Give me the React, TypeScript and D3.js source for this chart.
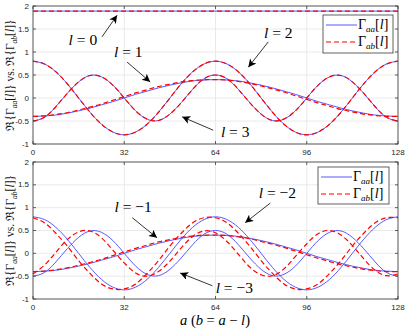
import * as d3 from "d3";

// sample positions a = 0, 4, ..., 128
const aSamples = [0, 4, 8, 12, 16, 20, 24, 28, 32, 36, 40, 44, 48, 52, 56, 60, 64,
  68, 72, 76, 80, 84, 88, 92, 96, 100, 104, 108, 112, 116, 120, 124, 128];

// l = 0 (flat)
const lag0X = [0, 128];
const lag0 = [1.89, 1.89];

// Re{Gamma_aa[l]} for |l| = 1, 2, 3
const gammaAa1 = [-0.4, -0.39, -0.37, -0.33, -0.28, -0.22, -0.15, -0.08, 0, 0.08, 0.15, 0.22, 0.28, 0.33, 0.37, 0.39, 0.4,
  0.39, 0.37, 0.33, 0.28, 0.22, 0.15, 0.08, 0, -0.08, -0.15, -0.22, -0.28, -0.33, -0.37, -0.39, -0.4];
const gammaAa2 = [0.8, 0.74, 0.57, 0.31, 0, -0.31, -0.57, -0.74, -0.8, -0.74, -0.57, -0.31, 0, 0.31, 0.57, 0.74, 0.8,
  0.74, 0.57, 0.31, 0, -0.31, -0.57, -0.74, -0.8, -0.74, -0.57, -0.31, 0, 0.31, 0.57, 0.74, 0.8];
const gammaAa3 = [-0.5, -0.42, -0.19, 0.1, 0.35, 0.49, 0.46, 0.28, 0, -0.28, -0.46, -0.49, -0.35, -0.1, 0.19, 0.42, 0.5,
  0.42, 0.19, -0.1, -0.35, -0.49, -0.46, -0.28, 0, 0.28, 0.46, 0.49, 0.35, 0.1, -0.19, -0.42, -0.5];

// Re{Gamma_ab[l]}
const gammaAb1 = [-0.4, -0.39, -0.36, -0.32, -0.26, -0.2, -0.13, -0.05, 0.03, 0.11, 0.18, 0.25, 0.3, 0.35, 0.38, 0.4, 0.4,
  0.39, 0.36, 0.32, 0.26, 0.2, 0.13, 0.05, -0.03, -0.11, -0.18, -0.25, -0.3, -0.35, -0.38, -0.4, -0.4];
const gammaAbM2 = [0.78, 0.67, 0.44, 0.16, -0.16, -0.44, -0.67, -0.78, -0.78, -0.67, -0.44, -0.16, 0.16, 0.44, 0.67, 0.78, 0.78,
  0.67, 0.44, 0.16, -0.16, -0.44, -0.67, -0.78, -0.78, -0.67, -0.44, -0.16, 0.16, 0.44, 0.67, 0.78, 0.78];
const gammaAbM3 = [-0.45, -0.26, 0.02, 0.3, 0.47, 0.49, 0.34, 0.07, -0.21, -0.43, -0.5, -0.4, -0.17, 0.12, 0.37, 0.49, 0.45,
  0.26, -0.02, -0.3, -0.47, -0.49, -0.34, -0.07, 0.21, 0.43, 0.5, 0.4, 0.17, -0.12, -0.37, -0.49, -0.45];

const xTicks = [0, 32, 64, 96, 128];
const yTicks = [-1, -0.5, 0, 0.5, 1, 1.5, 2];
const yTickLabels = ["-1", "-0.5", "0", "0.5", "1", "1.5", "2"];

// annotations: label, text position, arrow tail, arrow head (data units)
const topNotes = [
  { lag: "0", tx: 17.5, ty: 1.27, x1: 24.2, y1: 1.33, x2: 29.5, y2: 1.8 },
  { lag: "1", tx: 33.4, ty: 1.0, x1: 33.0, y1: 0.78, x2: 41.1, y2: 0.35 },
  { lag: "2", tx: 86.0, ty: 1.43, x1: 82.5, y1: 1.22, x2: 75.5, y2: 0.67 },
  { lag: "3", tx: 70.9, ty: -0.74, x1: 63.2, y1: -0.7, x2: 52.3, y2: -0.41 },
];
const bottomNotes = [
  { lag: "\u22121", tx: 35.1, ty: 1.02, x1: 34.8, y1: 0.78, x2: 43.5, y2: 0.34 },
  { lag: "\u22122", tx: 85.7, ty: 1.32, x1: 83.2, y1: 1.1, x2: 74.4, y2: 0.67 },
  { lag: "\u22123", tx: 70.6, ty: -0.76, x1: 62.9, y1: -0.71, x2: 51.6, y2: -0.43 },
];

const BLUE = "#4646ff";
const RED = "#ff0000";
const AXIS = "#3a3a3a";
const SERIF = "'Liberation Serif', 'DejaVu Serif', serif";
const SANS = "'Liberation Sans', Arial, sans-serif";

type Series = { x: number[]; y: number[]; dashed: boolean };
type Note = { lag: string; tx: number; ty: number; x1: number; y1: number; x2: number; y2: number };

function Panel(props: {
  top: number;
  bottom: number;
  series: Series[];
  notes: Note[];
  legend: { x: number; y: number; w: number; h: number };
}) {
  const { top, bottom, series, notes, legend } = props;
  const left = 33;
  const right = 398;

  const xScale = d3.scaleLinear().domain([0, 128]).range([left, right]);
  const yScale = d3.scaleLinear().domain([-1, 2]).range([bottom, top]);

  const line = d3
    .line<[number, number]>()
    .x((d) => xScale(d[0]))
    .y((d) => yScale(d[1]))
    .curve(d3.curveNatural);

  const pts = (s: Series) => s.x.map((v, i) => [v, s.y[i]] as [number, number]);

  return (
    <g>
      {/* grid */}
      {yTicks.map((t) => (
        <line key={"gy" + t} x1={left} x2={right} y1={yScale(t)} y2={yScale(t)} stroke="#e4e4e4" strokeWidth={0.8} />
      ))}
      {xTicks.map((t) => (
        <line key={"gx" + t} x1={xScale(t)} x2={xScale(t)} y1={top} y2={bottom} stroke="#e4e4e4" strokeWidth={0.8} />
      ))}

      {/* curves: blue solid first, red dashed on top */}
      {series.filter((s) => !s.dashed).map((s, i) => (
        <path key={"b" + i} d={line(pts(s)) ?? ""} fill="none" stroke={BLUE} strokeWidth={0.9} />
      ))}
      {series.filter((s) => s.dashed).map((s, i) => (
        <path key={"r" + i} d={line(pts(s)) ?? ""} fill="none" stroke={RED} strokeWidth={1.2} strokeDasharray="5,3" />
      ))}

      {/* box and ticks */}
      <rect x={left} y={top} width={right - left} height={bottom - top} fill="none" stroke={AXIS} strokeWidth={0.8} />
      {yTicks.map((t) => (
        <g key={"ty" + t}>
          <line x1={left} x2={left + 3} y1={yScale(t)} y2={yScale(t)} stroke={AXIS} strokeWidth={0.8} />
          <line x1={right - 3} x2={right} y1={yScale(t)} y2={yScale(t)} stroke={AXIS} strokeWidth={0.8} />
        </g>
      ))}
      {xTicks.map((t) => (
        <g key={"tx" + t}>
          <line x1={xScale(t)} x2={xScale(t)} y1={bottom} y2={bottom - 3} stroke={AXIS} strokeWidth={0.8} />
          <line x1={xScale(t)} x2={xScale(t)} y1={top} y2={top + 3} stroke={AXIS} strokeWidth={0.8} />
        </g>
      ))}
      {yTicks.map((t, i) => (
        <text key={"ly" + t} x={left - 4} y={yScale(t)} dy="0.33em" textAnchor="end" fontFamily={SANS} fontSize={8} fill="#262626">
          {yTickLabels[i]}
        </text>
      ))}
      {xTicks.map((t) => (
        <text key={"lx" + t} x={xScale(t)} y={bottom + 11} textAnchor="middle" fontFamily={SANS} fontSize={8} fill="#262626">
          {t}
        </text>
      ))}

      {/* y label */}
      <text
        transform={`translate(14,${(top + bottom) / 2}) rotate(-90)`}
        textAnchor="middle"
        fontFamily={SERIF}
        fontSize={11.5}
        fill="#111"
      >
        {"\u211C{\u0393"}
        <tspan fontSize={7.5} fontStyle="italic" dy={2.5}>aa</tspan>
        <tspan dy={-2.5}>[</tspan>
        <tspan fontStyle="italic">l</tspan>
        {"]}  vs.  \u211C{\u0393"}
        <tspan fontSize={7.5} fontStyle="italic" dy={2.5}>ab</tspan>
        <tspan dy={-2.5}>[</tspan>
        <tspan fontStyle="italic">l</tspan>
        {"]}"}
      </text>

      {/* annotations */}
      {notes.map((n) => (
        <g key={"n" + n.lag}>
          <line
            x1={xScale(n.x1)}
            y1={yScale(n.y1)}
            x2={xScale(n.x2)}
            y2={yScale(n.y2)}
            stroke="#000"
            strokeWidth={0.8}
            markerEnd="url(#arrowHead)"
          />
          <text x={xScale(n.tx)} y={yScale(n.ty)} dy="0.35em" textAnchor="middle" fontFamily={SERIF} fontSize={15.5} fill="#000">
            <tspan fontStyle="italic">l</tspan>
            {" = " + n.lag}
          </text>
        </g>
      ))}

      {/* legend */}
      <rect x={legend.x} y={legend.y} width={legend.w} height={legend.h} fill="#fff" stroke={AXIS} strokeWidth={0.8} />
      <line x1={legend.x + 3} x2={legend.x + 34} y1={legend.y + 10} y2={legend.y + 10} stroke={BLUE} strokeWidth={0.9} />
      <line x1={legend.x + 3} x2={legend.x + 34} y1={legend.y + 27} y2={legend.y + 27} stroke={RED} strokeWidth={1.2} strokeDasharray="5,3" />
      <text x={legend.x + 35} y={legend.y + 14} fontFamily={SERIF} fontSize={14} fill="#000">
        {"\u0393"}
        <tspan fontSize={9} fontStyle="italic" dy={3}>aa</tspan>
        <tspan dy={-3}>[</tspan>
        <tspan fontStyle="italic">l</tspan>
        {"]"}
      </text>
      <text x={legend.x + 35} y={legend.y + 31} fontFamily={SERIF} fontSize={14} fill="#000">
        {"\u0393"}
        <tspan fontSize={9} fontStyle="italic" dy={3}>ab</tspan>
        <tspan dy={-3}>[</tspan>
        <tspan fontStyle="italic">l</tspan>
        {"]"}
      </text>
    </g>
  );
}

export default function App() {
  const topSeries: Series[] = [
    { x: lag0X, y: lag0, dashed: false },
    { x: aSamples, y: gammaAa1, dashed: false },
    { x: aSamples, y: gammaAa2, dashed: false },
    { x: aSamples, y: gammaAa3, dashed: false },
    { x: lag0X, y: lag0, dashed: true },
    { x: aSamples, y: gammaAb1, dashed: true },
    { x: aSamples, y: gammaAa2, dashed: true },
    { x: aSamples, y: gammaAa3, dashed: true },
  ];
  const bottomSeries: Series[] = [
    { x: aSamples, y: gammaAa1, dashed: false },
    { x: aSamples, y: gammaAa2, dashed: false },
    { x: aSamples, y: gammaAa3, dashed: false },
    { x: aSamples, y: gammaAb1, dashed: true },
    { x: aSamples, y: gammaAbM2, dashed: true },
    { x: aSamples, y: gammaAbM3, dashed: true },
  ];

  return (
    <svg
      width={407}
      height={329}
      style={{ position: "absolute", left: 0, top: 0, background: "#fff" }}
    >
      <defs>
        <marker id="arrowHead" viewBox="0 0 10 10" refX={10} refY={5} markerWidth={10} markerHeight={8} markerUnits="userSpaceOnUse" orient="auto">
          <path d="M0,0 L10,5 L0,10 L2.5,5 Z" fill="#000" />
        </marker>
      </defs>
      <Panel top={6} bottom={144} series={topSeries} notes={topNotes} legend={{ x: 323, y: 15, w: 70, h: 38 }} />
      <Panel top={162} bottom={299} series={bottomSeries} notes={bottomNotes} legend={{ x: 318, y: 167, w: 71, h: 37 }} />
      <text x={215} y={325} textAnchor="middle" fontFamily={SERIF} fontSize={14.5} fill="#000">
        <tspan fontStyle="italic">a</tspan>
        {" ("}
        <tspan fontStyle="italic">b</tspan>
        {" = "}
        <tspan fontStyle="italic">a</tspan>
        {" \u2212 "}
        <tspan fontStyle="italic">l</tspan>
        {")"}
      </text>
    </svg>
  );
}
